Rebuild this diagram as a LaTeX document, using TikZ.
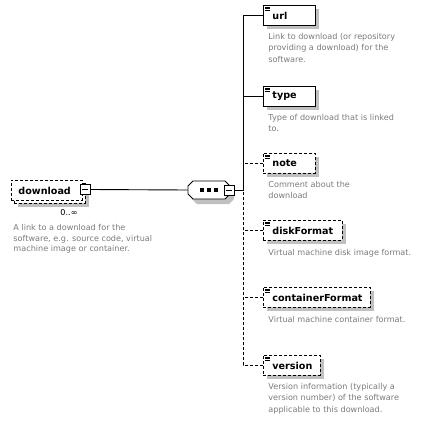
\documentclass[tikz,border=0pt]{standalone}
\usepackage{fontspec}
\setmainfont{DejaVu Sans}
\usetikzlibrary{shadows,calc}
\definecolor{shadowgray}{RGB}{192,192,192}
\definecolor{descgray}{RGB}{122,122,122}
\begin{document}
\begin{tikzpicture}[x=1pt,y=-1pt,line width=0.9pt,
  box/.style={draw, fill=white, anchor=north west, minimum height=20pt,
    inner xsep=0pt, inner ysep=0pt, text width=#1, align=left,
    font=\fontsize{9.6}{11}\selectfont\bfseries},
  shadowed/.style={general shadow={fill=shadowgray, shadow xshift=4pt, shadow yshift=-4pt}},
  elem/.style={box=#1, shadowed},
  opt/.style={dash pattern=on 3pt off 2pt},
  desc/.style={anchor=north west, inner sep=0pt, align=left, text=descgray,
    font=\fontsize{8.1}{11.3}\selectfont},
  minusbox/.style={draw, fill=white, minimum size=10pt, inner sep=0pt,
    path picture={\draw[line width=0.9pt] ($(path picture bounding box.west)+(2pt,0)$) -- ($(path picture bounding box.east)+(-2pt,0)$);}},
  icon/.style={line width=0.8pt}]
\useasboundingbox (0,0) rectangle (434,442);

% root element (stacked: repeated)
\node[elem=71pt, opt] (downloadback) at (14,183) {};
\node[box=71pt, opt] (download) at (11,180) {\hspace*{7pt}download};
\node[minusbox] (dlm) at (85,189.5) {};
\node[font=\fontsize{8.1}{10}\selectfont, inner sep=0pt] (mult) at (69,213) {0..∞};
\node[desc, font=\fontsize{8.1}{10.5}\selectfont] (ddesc) at (13,224)
  {A link to a download for the\\software, e.g. source code, virtual\\machine image or container.};

% sequence compositor
\fill[shadowgray] (197,186) -- (229,186) -- (234,191) -- (234,199) -- (229,204) -- (197,204) -- (192,199) -- (192,191) -- cycle;
\draw[fill=white] (193,181) -- (225,181) -- (230,186) -- (230,194) -- (225,199) -- (193,199) -- (188,194) -- (188,186) -- cycle;
\node[minimum width=42pt, minimum height=18pt, inner sep=0pt] (seq) at (209,190) {};
\foreach \dx in {202,209,216} \fill (\dx-2.2,187.8) rectangle (\dx+2.2,192.2);
\node[minusbox] (seqm) at (229,190) {};
\coordinate (bus) at (243,190);

% children
\node[elem=52pt] (url) at (263,5) {\hspace*{9pt}url};
\node[desc] (urld) at (268,33) {Link to download (or repository\\providing a download) for the\\software.};
\node[elem=52pt] (type) at (263,86) {\hspace*{9pt}type};
\node[desc] (typed) at (268,114) {Type of download that is linked\\to.};
\node[elem=52pt, opt] (note) at (263,153) {\hspace*{9pt}note};
\node[desc] (noted) at (268,181) {Comment about the\\download};
\node[elem=79pt, opt] (disk) at (263,220) {\hspace*{9pt}diskFormat};
\node[desc] (diskd) at (268,249) {Virtual machine disk image format.};
\node[elem=107pt, opt] (cont) at (263,287) {\hspace*{9pt}containerFormat};
\node[desc] (contd) at (268,316) {Virtual machine container format.};
\node[elem=57pt, opt] (ver) at (263,355) {\hspace*{9pt}version};
\node[desc] (verd) at (268,383) {Version information (typically a\\version number) of the software\\applicable to this download.};

% icons
\foreach \n in {url,type,note,disk,cont,ver}{
  \foreach \dy in {2,3.7,5.4}
    \draw[icon] ([shift={(2,\dy)}]\n.north west) -- ++(5,0);
}

% connectors
\draw (dlm.east) -- (seq.west);
\draw (seqm.east) -- (bus);
\draw (url.west) -| (bus);
\draw (type.west) -- (type.west -| bus);
\draw[opt] (ver.west) -| (bus);
\draw[opt] (note.west) -- (note.west -| bus);
\draw[opt] (disk.west) -- (disk.west -| bus);
\draw[opt] (cont.west) -- (cont.west -| bus);
\end{tikzpicture}
\end{document}
